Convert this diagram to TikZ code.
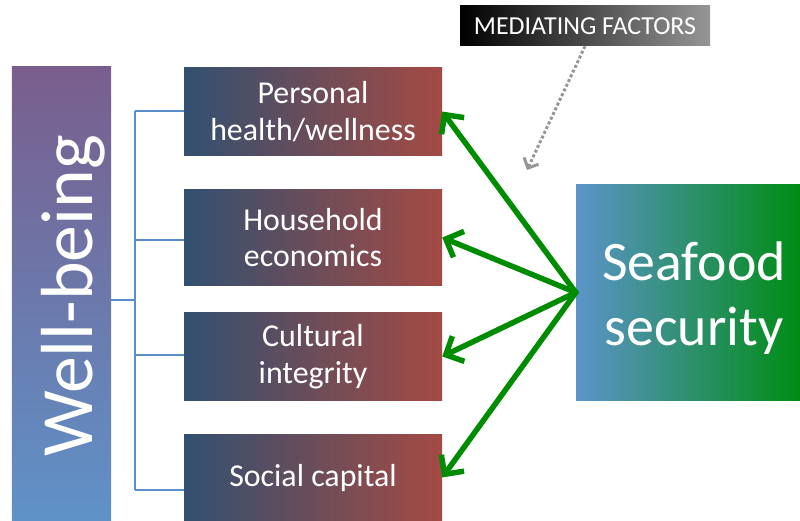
\documentclass[tikz,border=0pt]{standalone}
\usepackage{fontspec}
\setmainfont{Carlito}
\usetikzlibrary{arrows.meta}
\definecolor{wbtop}{RGB}{121,94,141}
\definecolor{wbbot}{RGB}{95,146,200}
\definecolor{boxl}{RGB}{50,80,112}
\definecolor{boxr}{RGB}{164,74,68}
\definecolor{sfl}{RGB}{92,148,202}
\definecolor{sfr}{RGB}{0,140,20}
\definecolor{linkblue}{RGB}{88,142,202}
\definecolor{arrgreen}{RGB}{0,140,0}
\definecolor{medgray}{RGB}{150,150,150}
\tikzset{
  dimbox/.style={draw=none, left color=boxl, right color=boxr, text=white,
    minimum width=258bp, minimum height=88bp, inner sep=0pt, align=center,
    font=\fontsize{32}{37}\selectfont},
  link/.style={draw=linkblue, line width=2bp},
  garrow/.style={draw=arrgreen, line width=5.5bp, line cap=round, line join=round,
    -{Straight Barb[length=14bp,width=28bp,line width=5.5bp]}},
  medarrow/.style={draw=medgray, line width=3bp, dash pattern=on 3bp off 2.2bp,
    -{Straight Barb[length=8bp,width=16bp,line width=3bp]}}
}
\begin{document}
\begin{tikzpicture}[x=1bp,y=-1bp]
\useasboundingbox (0,0) rectangle (800,521);
% well-being column
\node[draw=none, top color=wbtop, bottom color=wbbot, minimum width=99bp,
  minimum height=454bp, inner sep=0pt] (wb) at (61.5,294) {};
\node[text=white, rotate=90, anchor=base, font=\fontsize{74}{76}\selectfont,
  inner sep=0pt] (wbtext) at (92,296) {Well-being};
% the four dimensions
\node[dimbox] (b1) at (313,111.5) {Personal\\health/wellness};
\node[dimbox, minimum height=95bp] (b2) at (313,237.5) {Household\\economics};
\node[dimbox, minimum height=87bp] (b3) at (313,356.5) {Cultural\\integrity};
\node[dimbox, minimum height=87bp] (b4) at (313,477.5) {Social capital};
% seafood security
\node[draw=none, left color=sfl, right color=sfr, minimum width=224bp,
  minimum height=215bp, inner sep=0pt] (sf) at (688,292.5) {};
\node[text=white, align=center, font=\fontsize{56}{65}\selectfont, inner sep=0pt]
  (sftext) at (694,298) {Seafood\\security};
% mediating factors label
\node[draw=none, left color=black, right color=medgray, minimum width=250bp,
  minimum height=40bp, inner sep=0pt, text=white,
  font=\fontsize{26}{28}\selectfont] (md) at (585,26) {MEDIATING FACTORS};
\coordinate (medtip) at (527,170);
% bracket linking well-being to its dimensions
\coordinate (trunk) at (135,300);
\coordinate (b4in) at (184,490);
\draw[link] (wb.east |- trunk) -- (trunk);
\draw[link] (trunk |- b1.west) -- (trunk |- b4in);
\draw[link] (trunk |- b1.west) -- (b1.west);
\draw[link] (trunk |- 0,240) -- (b2.west |- 0,240);
\draw[link] (trunk |- 0,355) -- (b3.west |- 0,355);
\draw[link] (trunk |- b4in) -- (b4in);
% influence arrows
\draw[garrow] (sf.west) -- (b1.east);
\draw[garrow] (sf.west) -- (b2.east);
\draw[garrow] (sf.west) -- (b3.east);
\draw[garrow] (sf.west) -- (b4.east);
\draw[medarrow] (md.south) -- (medtip);
\end{tikzpicture}
\end{document}
